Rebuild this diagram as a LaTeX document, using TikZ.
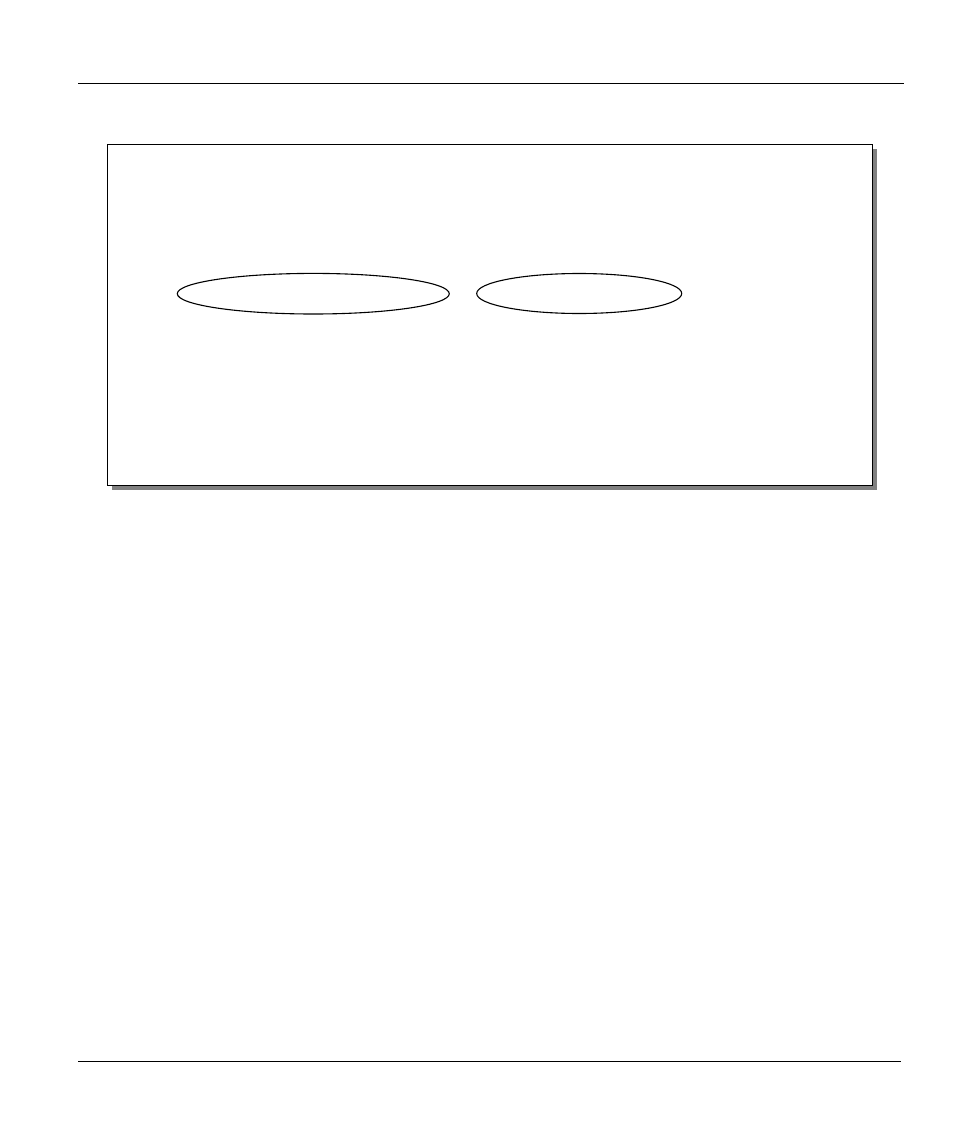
\documentclass[tikz,border=0pt]{standalone}
\begin{document}
\begin{tikzpicture}[x=1pt,y=-1pt,
  rule/.style={line width=1pt,black},
  frame/.style={draw=black,line width=1.2pt,fill=white},
  shadowbox/.style={fill=black!50,draw=none},
  oval/.style={draw=black,line width=1.1pt}]
\useasboundingbox (0,0) rectangle (954,1132);
\coordinate (tl) at (78,83.3);
\coordinate (tr) at (904,83.3);
\coordinate (bl) at (78,1061.3);
\coordinate (br) at (901,1061.3);
\draw[rule] (tl) -- (tr);
\draw[rule] (bl) -- (br);
\fill[shadowbox] (111.5,148.5) rectangle (876.7,489.7);
\draw[frame] (107.3,144.3) coordinate (boxtl) rectangle (872.7,485.3) coordinate (boxbr);
\draw[oval] (313.3,293.7) ellipse [x radius=136, y radius=20.3];
\draw[oval] (579.2,293.5) ellipse [x radius=102.5, y radius=20];
\end{tikzpicture}
\end{document}
